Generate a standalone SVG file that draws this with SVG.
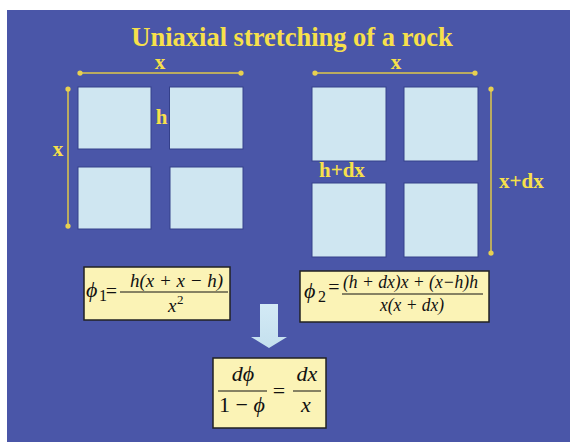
<svg xmlns="http://www.w3.org/2000/svg" width="570" height="442" viewBox="0 0 570 442">
<defs>
<style>
.sq{fill:#cfe6f1;stroke:#34408a;stroke-width:1}
.dim{stroke:#e0c84a;stroke-width:1.5;fill:none;marker-start:url(#dot);marker-end:url(#dot)}
.lbl{font-family:"Liberation Serif",serif;font-weight:bold;font-size:21px;fill:#f7e04b}
.box{fill:#fbf3b6;stroke:#222;stroke-width:1.5}
.m{font-family:"Liberation Serif","DejaVu Serif",serif;font-style:italic;fill:#111}
.u{font-family:"Liberation Serif","DejaVu Serif",serif;font-style:normal;fill:#111}
.fl{stroke:#111;stroke-width:1}
</style>
<marker id="dot" viewBox="0 0 6 6" refX="3" refY="3" markerWidth="3.5" markerHeight="3.5" markerUnits="strokeWidth"><circle cx="3" cy="3" r="3" fill="#e8d050"/></marker>
<linearGradient id="ag" x1="0" y1="0" x2="0" y2="1"><stop offset="0" stop-color="#d3eaf5"/><stop offset="1" stop-color="#c4e0ee"/></linearGradient>
</defs>
<rect x="7" y="10" width="563" height="432" fill="#4a56a8"/>
<text x="292" y="46" text-anchor="middle" font-family="Liberation Serif, serif" font-weight="bold" font-size="26.5" fill="#f7e04b">Uniaxial stretching of a rock</text>

<g id="left-grid">
<rect class="sq" x="78" y="87" width="73" height="62"/>
<rect class="sq" x="169.5" y="87" width="73.5" height="62"/>
<rect class="sq" x="78" y="167" width="73" height="62"/>
<rect class="sq" x="170" y="167" width="73" height="62"/>
<text class="lbl" x="161.5" y="124" text-anchor="middle">h</text>
</g>
<g id="right-grid">
<rect class="sq" x="312" y="87" width="74" height="74"/>
<rect class="sq" x="404" y="87" width="74" height="74"/>
<rect class="sq" x="312" y="183" width="74" height="74"/>
<rect class="sq" x="404" y="183" width="74" height="74"/>
<text class="lbl" x="319" y="177">h+dx</text>
</g>

<g id="connectors">
<line class="dim" x1="80" y1="73" x2="241" y2="73"/>
<line class="dim" x1="68" y1="89" x2="68" y2="226"/>
<line class="dim" x1="315" y1="73" x2="475" y2="73"/>
<line class="dim" x1="491" y1="89" x2="491" y2="253"/>
<polygon points="260,304 278,304 278,337 287,337 269,348 251,337 260,337" fill="url(#ag)"/>
</g>
<g id="dim-labels">
<text class="lbl" x="160" y="69" text-anchor="middle">x</text>
<text class="lbl" x="58" y="156" text-anchor="middle">x</text>
<text class="lbl" x="396" y="69" text-anchor="middle">x</text>
<text class="lbl" x="499" y="188">x+dx</text>
</g>

<g id="formula1">
<rect class="box" x="84" y="267" width="146" height="53"/>
<text class="m" x="86" y="297" font-size="22">ϕ</text>
<text class="u" x="99" y="301" font-size="16">1</text>
<text class="u" x="111.5" y="298" font-size="20" text-anchor="middle">=</text>
<line class="fl" x1="120" y1="292" x2="228" y2="292"/>
<text class="m" x="130" y="287" font-size="19" textLength="93" lengthAdjust="spacingAndGlyphs">h(x + x − h)</text>
<text class="m" x="168" y="312" font-size="19">x</text>
<text class="u" x="177" y="304" font-size="13">2</text>
</g>

<g id="formula2">
<rect class="box" x="300" y="271" width="189" height="51"/>
<text class="m" x="304" y="298" font-size="22">ϕ</text>
<text class="u" x="318" y="302" font-size="16">2</text>
<text class="u" x="334" y="294" font-size="20" text-anchor="middle">=</text>
<line class="fl" x1="342" y1="294" x2="483" y2="294"/>
<text class="m" x="343" y="288" font-size="18" textLength="135" lengthAdjust="spacingAndGlyphs">(h + dx)x + (x−h)h</text>
<text class="m" x="380" y="311" font-size="18" textLength="64" lengthAdjust="spacingAndGlyphs">x(x + dx)</text>
</g>

<g id="formula3">
<rect class="box" x="213" y="358" width="113" height="70"/>
<text class="m" x="243" y="381" font-size="22" text-anchor="middle">dϕ</text>
<line class="fl" x1="218" y1="391" x2="267" y2="391"/>
<text class="u" x="242" y="412" font-size="22" text-anchor="middle">1 − <tspan font-style="italic">ϕ</tspan></text>
<text class="u" x="279" y="398" font-size="22" text-anchor="middle">=</text>
<text class="m" x="307" y="381" font-size="22" text-anchor="middle">dx</text>
<line class="fl" x1="293" y1="391" x2="321" y2="391"/>
<text class="m" x="306" y="412" font-size="22" text-anchor="middle">x</text>
</g>
</svg>
